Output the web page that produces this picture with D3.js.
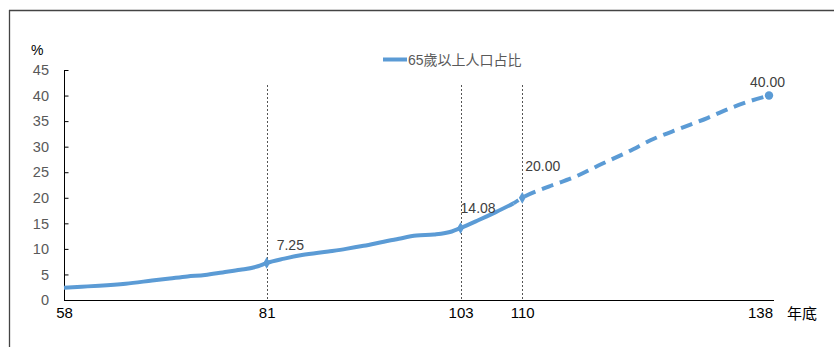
<!DOCTYPE html>
<html><head><meta charset="utf-8">
<script src="https://cdn.jsdelivr.net/npm/d3@7"></script>
<style>
html,body{margin:0;padding:0;background:#fff;}
svg{display:block;font-family:"Liberation Sans",Arial,"Noto Sans CJK TC",sans-serif;}
</style></head>
<body>
<svg id="chart" width="834" height="347"></svg>
<script>
// ---- data ----
const seriesName = "65歲以上人口占比";
const actualYears  = [58, 60, 62, 65, 68, 70, 72, 74, 76, 78, 80, 81, 83, 85, 88, 90, 92, 94, 96, 98, 100, 102, 103, 105, 107, 109];
const actualValues = [2.4, 2.6, 2.8, 3.2, 3.8, 4.2, 4.6, 4.9, 5.4, 5.9, 6.6, 7.25, 8.1, 8.8, 9.5, 10.0, 10.6, 11.3, 12.0, 12.6, 12.8, 13.4, 14.08, 15.6, 17.2, 18.9];
const projYears  = [109, 110, 113, 116, 119, 122, 125, 128, 131, 134, 136, 138];
const projValues = [18.9, 20.0, 22.2, 24.1, 26.6, 29.0, 31.6, 33.6, 35.6, 37.8, 39.0, 40.0];
const markedYears  = [81, 103, 110, 138];
const markedValues = [7.25, 14.08, 20.00, 40.00];
const xTickYears = [58, 81, 103, 110, 138];
const refLineYears = [81, 103, 110];
const yTicks = [0, 5, 10, 15, 20, 25, 30, 35, 40, 45];
const yUnit = "%";
const xUnit = "年底";

// ---- layout ----
const svg = d3.select("#chart");
const x = d3.scaleLinear().domain([58, 138]).range([64, 769]);
const y = d3.scaleLinear().domain([0, 45]).range([300, 70]);
const blue = "#5B9BD5";

// frame
svg.append("line").attr("x1", 9).attr("x2", 834).attr("y1", 10.5).attr("y2", 10.5)
  .attr("stroke", "#444").attr("stroke-width", 1.3);
svg.append("line").attr("x1", 9.5).attr("x2", 9.5).attr("y1", 10).attr("y2", 347)
  .attr("stroke", "#444").attr("stroke-width", 1.3);

// reference vertical dotted lines
svg.selectAll(".ref").data(refLineYears).enter().append("line")
  .attr("x1", d => Math.round(x(d)) + 0.5).attr("x2", d => Math.round(x(d)) + 0.5)
  .attr("y1", 85).attr("y2", 300)
  .attr("stroke", "#555").attr("stroke-width", 1).attr("stroke-dasharray", "2,2");

// y axis
const yAxis = d3.axisRight(y).tickValues(yTicks).tickSize(4).tickFormat("");
const gy = svg.append("g").attr("transform", "translate(64.5,0)").call(yAxis);
gy.select(".domain").attr("stroke", "#000").attr("d", `M0,${y(45)}V${y(0)}`);
gy.selectAll(".tick line").attr("stroke", "#000");
svg.selectAll(".ylab").data(yTicks).enter().append("text")
  .attr("x", 49).attr("y", d => y(d)).attr("dy", "0.36em")
  .attr("text-anchor", "end").attr("font-size", 14.5).attr("fill", "#595959")
  .text(d => d);
svg.append("text").attr("x", 31).attr("y", 55).attr("font-size", 14).attr("fill", "#000").text(yUnit);

// x axis
const xAxis = d3.axisBottom(x).tickValues(xTickYears).tickSize(0).tickPadding(7);
const gx = svg.append("g").attr("transform", "translate(0,300.5)").call(xAxis);
gx.select(".domain").attr("stroke", "#000").attr("d", "M64,0H774");
gx.selectAll(".tick text").attr("font-size", 15).attr("fill", "#000")
  .attr("font-family", '"Liberation Sans",Arial,sans-serif')
  .attr("dx", d => d === 138 ? -9 : 0);
svg.append("text").attr("x", 787).attr("y", 319).attr("font-size", 15)
  .attr("font-family", '"Noto Sans CJK TC",sans-serif').attr("fill", "#000").text(xUnit);

// lines
const line = d3.line().x(d => x(d[0])).y(d => y(d[1])).curve(d3.curveMonotoneX);
svg.append("path").datum(d3.zip(actualYears, actualValues))
  .attr("d", line).attr("fill", "none").attr("stroke", blue)
  .attr("stroke-width", 4).attr("stroke-linejoin", "round");
svg.append("path").datum(d3.zip(projYears, projValues))
  .attr("d", line).attr("fill", "none").attr("stroke", blue)
  .attr("stroke-width", 4).attr("stroke-dasharray", "12,7").attr("stroke-dashoffset", 6);

// markers
const marks = d3.zip(markedYears, markedValues);
svg.selectAll(".mk").data(marks.slice(0, 3)).enter().append("path")
  .attr("d", d3.symbol().type(d3.symbolDiamond).size(40))
  .attr("transform", d => `translate(${x(d[0])},${y(d[1])})`)
  .attr("fill", blue);
svg.selectAll(".mc").data(marks.slice(3)).enter().append("circle")
  .attr("cx", d => x(d[0])).attr("cy", d => y(d[1])).attr("r", 4.2).attr("fill", blue);

// data labels
const labelOffsets = [[10, -18], [0, -20], [3, -32], [-19, -14]];
svg.selectAll(".dl").data(marks).enter().append("text")
  .attr("x", (d, i) => x(d[0]) + labelOffsets[i][0])
  .attr("y", (d, i) => y(d[1]) + labelOffsets[i][1])
  .attr("dy", "0.36em")
  .attr("font-size", 14).attr("fill", "#404040")
  .text(d => d[1].toFixed(2));

// legend
svg.append("line").attr("x1", 383).attr("x2", 407).attr("y1", 59.5).attr("y2", 59.5)
  .attr("stroke", blue).attr("stroke-width", 4);
svg.append("text").attr("x", 408).attr("y", 60).attr("dy", "0.36em")
  .attr("font-size", 14).attr("fill", "#595959")
  .attr("font-family", '"Liberation Sans",Arial,"Noto Sans CJK TC",sans-serif')
  .text(seriesName);
</script>
</body></html>
